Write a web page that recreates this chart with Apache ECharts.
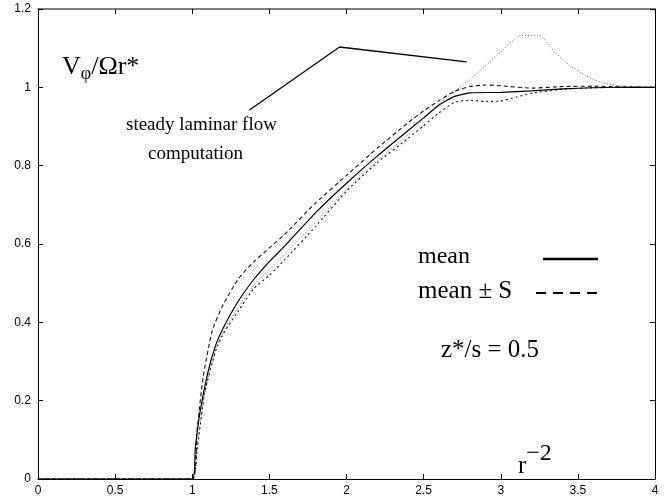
<!DOCTYPE html>
<html>
<head>
<meta charset="utf-8">
<script src="https://cdn.jsdelivr.net/npm/echarts@6/dist/echarts.min.js"></script>
<style>
html,body{margin:0;padding:0;background:#fff;}
#main{width:668px;height:499px;}
</style>
</head>
<body>
<div id="main"></div>
<script>
// r* positions and V/(Omega r*)
var xMean = [0, 1.0, 1.02, 1.05, 1.1, 1.15, 1.2, 1.3, 1.4, 1.5, 1.6, 1.8, 2.0, 2.2, 2.4, 2.5, 2.6, 2.7, 2.8, 3.0, 3.2, 3.4, 3.6, 3.8, 4.0];
var yMean = [0, 0, 0.08, 0.17, 0.27, 0.34, 0.385, 0.455, 0.51, 0.555, 0.595, 0.68, 0.755, 0.825, 0.89, 0.922, 0.955, 0.977, 0.986, 0.987, 0.991, 0.996, 0.999, 1.0, 1.0];

var xUpper = [0, 1.0, 1.03, 1.07, 1.13, 1.2, 1.3, 1.4, 1.5, 1.6, 1.8, 2.0, 2.2, 2.4, 2.5, 2.6, 2.7, 2.8, 2.9, 3.0, 3.2, 3.4, 3.6, 3.8, 4.0];
var yUpper = [0, 0, 0.12, 0.26, 0.38, 0.445, 0.512, 0.555, 0.59, 0.625, 0.705, 0.775, 0.845, 0.91, 0.94, 0.966, 0.99, 1.002, 1.006, 1.004, 0.998, 1.002, 1.003, 1.001, 1.0];

var xLower = [0, 1.0, 1.03, 1.08, 1.15, 1.2, 1.3, 1.4, 1.5, 1.6, 1.8, 2.0, 2.2, 2.4, 2.5, 2.6, 2.7, 2.8, 2.9, 3.0, 3.1, 3.2, 3.4, 3.6, 3.8, 4.0];
var yLower = [0, 0, 0.07, 0.22, 0.325, 0.37, 0.43, 0.487, 0.52, 0.56, 0.645, 0.735, 0.808, 0.87, 0.902, 0.935, 0.962, 0.967, 0.964, 0.965, 0.975, 0.985, 0.995, 0.999, 1.0, 1.0];

var xLaminar = [0, 1.0, 1.03, 1.08, 1.15, 1.2, 1.3, 1.4, 1.5, 1.6, 1.8, 2.0, 2.2, 2.4, 2.6, 2.8, 3.0, 3.12, 3.25, 3.35, 3.45, 3.55, 3.65, 3.75, 3.9, 4.0];
var yLaminar = [0, 0, 0.08, 0.215, 0.33, 0.375, 0.44, 0.495, 0.535, 0.575, 0.655, 0.74, 0.812, 0.88, 0.958, 1.02, 1.09, 1.131, 1.133, 1.09, 1.055, 1.03, 1.013, 1.005, 1.001, 1.0];

// pointer line for the "steady laminar flow computation" note
var xPointer = [1.371, 1.955, 2.778];
var yPointer = [0.942, 1.103, 1.065];

var xTicks = ['0', '0.5', '1', '1.5', '2', '2.5', '3', '3.5', '4'];

function pairs(xs, ys) {
    var out = [];
    for (var i = 0; i < xs.length; i++) {
        out.push([xs[i], ys[i]]);
    }
    return out;
}

var myChart = echarts.init(document.getElementById('main'), null, {renderer: 'canvas'});

var labelFont = {color: '#000', fontFamily: 'Liberation Sans, Arial, sans-serif', fontSize: 12};
var serif = 'Liberation Serif, Times New Roman, serif';

var option = {
    backgroundColor: '#fff',
    animation: false,
    grid: {left: 38, right: 13, top: 9, bottom: 20, containLabel: false},
    xAxis: [{
        type: 'value', min: 0, max: 4, interval: 0.5, position: 'bottom',
        axisLine: {show: true, onZero: false, lineStyle: {color: '#000', width: 1}},
        axisTick: {show: true, inside: true, length: 5, lineStyle: {color: '#000'}},
        axisLabel: Object.assign({margin: 6, formatter: function (v) {
            return xTicks[Math.round(v / 0.5)];
        }}, labelFont),
        splitLine: {show: false}
    }, {
        type: 'value', min: 0, max: 4, interval: 0.5, position: 'top',
        axisLine: {show: true, onZero: false, lineStyle: {color: '#555', width: 1.5}},
        axisTick: {show: true, inside: true, length: 5, lineStyle: {color: '#000'}},
        axisLabel: {show: false},
        splitLine: {show: false}
    }],
    yAxis: [{
        type: 'value', min: 0, max: 1.2, interval: 0.2, position: 'left',
        axisLine: {show: true, onZero: false, lineStyle: {color: '#000', width: 1}},
        axisTick: {show: true, inside: true, length: 5, lineStyle: {color: '#000'}},
        axisLabel: Object.assign({margin: 7}, labelFont),
        splitLine: {show: false}
    }, {
        type: 'value', min: 0, max: 1.2, interval: 0.2, position: 'right',
        axisLine: {show: true, onZero: false, lineStyle: {color: '#000', width: 1}},
        axisTick: {show: true, inside: true, length: 5, lineStyle: {color: '#000'}},
        axisLabel: {show: false},
        splitLine: {show: false}
    }],
    series: [
        {
            name: 'steady laminar flow computation', type: 'line',
            data: pairs(xLaminar, yLaminar), showSymbol: false, smooth: 0.15,
            lineStyle: {color: '#666', width: 1, type: [1, 2]}
        },
        {
            name: 'mean - S', type: 'line',
            data: pairs(xLower, yLower), showSymbol: false, smooth: 0.15,
            lineStyle: {color: '#111', width: 1.1, type: [2, 3]}
        },
        {
            name: 'mean + S', type: 'line',
            data: pairs(xUpper, yUpper), showSymbol: false, smooth: 0.15,
            lineStyle: {color: '#111', width: 1.1, type: [4, 3]}
        },
        {
            name: 'mean', type: 'line',
            data: pairs(xMean, yMean), showSymbol: false, smooth: 0.15,
            lineStyle: {color: '#000', width: 1.2, type: 'solid'}
        },
        {
            name: 'pointer', type: 'line',
            data: pairs(xPointer, yPointer), showSymbol: false,
            lineStyle: {color: '#000', width: 1.3}
        }
    ],
    graphic: [
        {
            type: 'text', left: 62, top: 51,
            style: {
                text: '{b|V}{s|\u03c6}{b|/\u03a9r*}',
                rich: {
                    b: {fontFamily: serif, fontSize: 26, fill: '#000', lineHeight: 30},
                    s: {fontFamily: serif, fontSize: 18, fill: '#000', padding: [14, 0, 0, 0], lineHeight: 30}
                }
            }
        },
        {
            type: 'text', left: 126, top: 116,
            style: {text: 'steady laminar flow', fontFamily: serif, fontSize: 19, fill: '#000'}
        },
        {
            type: 'text', left: 148, top: 145,
            style: {text: 'computation', fontFamily: serif, fontSize: 19, fill: '#000'}
        },
        {
            type: 'text', left: 418, top: 245,
            style: {text: 'mean', fontFamily: serif, fontSize: 24, fill: '#000'}
        },
        {
            type: 'line', shape: {x1: 543, y1: 259, x2: 598, y2: 259},
            style: {stroke: '#000', lineWidth: 2.4}
        },
        {
            type: 'text', left: 418, top: 279,
            style: {text: 'mean \u00b1 S', fontFamily: serif, fontSize: 25, fill: '#000'}
        },
        {
            type: 'line', shape: {x1: 536, y1: 293, x2: 602, y2: 293},
            style: {stroke: '#000', lineWidth: 2, lineDash: [10, 7]}
        },
        {
            type: 'text', left: 441, top: 338,
            style: {text: 'z*/s = 0.5', fontFamily: serif, fontSize: 25, fill: '#000'}
        },
        {
            type: 'text', left: 518, top: 442,
            style: {
                text: '{b|r}{p|\u22122}',
                rich: {
                    b: {fontFamily: serif, fontSize: 25, fill: '#000', lineHeight: 34, verticalAlign: 'bottom'},
                    p: {fontFamily: serif, fontSize: 24, fill: '#000', lineHeight: 34, padding: [0, 0, 13, 0], verticalAlign: 'bottom'}
                }
            }
        }
    ]
};

myChart.setOption(option, true);
</script>
</body>
</html>
